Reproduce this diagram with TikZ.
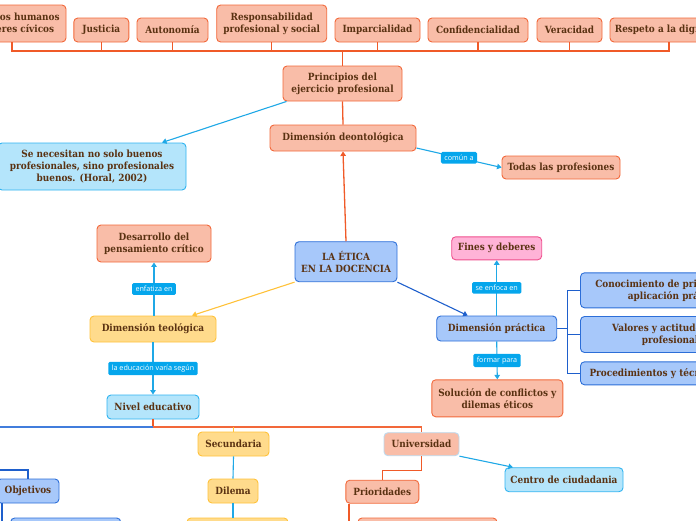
\documentclass[tikz,border=0pt]{standalone}
\usepackage{fontspec}
\setmainfont{DejaVu Serif}[FakeStretch=0.9]
\newfontfamily\lblfont{Open Sans}
\usetikzlibrary{arrows.meta}
\definecolor{txt}{HTML}{5A3212}
\definecolor{salfill}{HTML}{F9BDA8}
\definecolor{salline}{HTML}{F2683A}
\definecolor{orline}{HTML}{F05A28}
\definecolor{bluefill}{HTML}{A7C8FA}
\definecolor{blueline}{HTML}{2C6ED8}
\definecolor{skyfill}{HTML}{B4E5FB}
\definecolor{skyline}{HTML}{2FB3F0}
\definecolor{yelfill}{HTML}{FFDB8C}
\definecolor{yelline}{HTML}{FFC23A}
\definecolor{pinkfill}{HTML}{FFB3D7}
\definecolor{pinkline}{HTML}{EF4F8D}
\definecolor{lblfill}{HTML}{05A6EC}
\definecolor{cyanline}{HTML}{1FA8E6}
\definecolor{darkline}{HTML}{1E5FCC}
\definecolor{univline}{HTML}{BCD9EE}

\begin{document}
\begin{tikzpicture}[x=1pt, y=-1pt,
    box/.style={draw, rounded corners=4pt, line width=0.9pt, align=center, inner sep=2pt,
        text=txt, font=\bfseries\fontsize{9.9}{12}\selectfont},
    salbox/.style={box, fill=salfill, draw=salline},
    bluebox/.style={box, fill=bluefill, draw=blueline},
    skybox/.style={box, fill=skyfill, draw=skyline},
    yelbox/.style={box, fill=yelfill, draw=yelline},
    pinkbox/.style={box, fill=pinkfill, draw=pinkline},
    lbl/.style={fill=lblfill, text=white, rounded corners=1.5pt, inner xsep=3.5pt, inner ysep=3pt,
        font=\lblfont\fontsize{7.2}{8}\selectfont},
    arr/.style={-{Triangle[length=4.5pt,width=5.5pt]}},
    orln/.style={draw=orline, line width=1.3pt},
    skyln/.style={draw=cyanline, line width=1.1pt},
    blueln/.style={draw=darkline, line width=1.1pt}]
    \clip (0,0) rectangle (696,520);

    % principios
    \node[salbox, minimum width=108, minimum height=37] (dhum) at (12,23.5) {Derechos humanos\\y deberes cívicos};
    \node[salbox, minimum width=55, minimum height=24] (just) at (101.3,30) {Justicia};
    \node[salbox, minimum width=71, minimum height=24] (auto) at (172.5,30) {Autonomía};
    \node[salbox, minimum width=110, minimum height=37] (resp) at (271.7,23.5) {Responsabilidad\\profesional y social};
    \node[salbox, minimum width=85, minimum height=24] (impa) at (377.5,30) {Imparcialidad};
    \node[salbox, minimum width=100, minimum height=24] (conf) at (478,30) {Confidencialidad};
    \node[salbox, minimum width=65, minimum height=24] (vera) at (569.5,30) {Veracidad};
    \node[salbox, minimum width=118, minimum height=24] (resd) at (669,30) {Respeto a la dignidad};
    \node[salbox, minimum width=119, minimum height=35] (prin) at (342.5,83.5) {Principios del\\ejercicio profesional};
    \coordinate (tbar) at (342.5,51);
    \foreach \n in {dhum,just,auto,resp,impa,conf,vera,resd}
        \draw[orln] (\n.south) |- (tbar);
    \draw[orln, line width=1.8pt] (tbar) -- (prin.north);

    % deontologica
    \node[salbox, minimum width=146, minimum height=26] (deon) at (343,138) {Dimensión deontológica};
    \node[skybox, minimum width=188, minimum height=47] (nece) at (92,166.5) {Se necesitan no solo buenos\\profesionales, sino profesionales\\buenos. (Horal, 2002)};
    \node[salbox, minimum width=118, minimum height=23] (toda) at (561,167.5) {Todas las profesiones};
    \draw[orln] (prin.south) -- (deon.north);
    \draw[skyln, arr] ([xshift=4pt]prin.south west) -- ([xshift=70pt]nece.north);
    \draw[skyln, arr] ([yshift=-10pt]deon.east) -- node[lbl] {común a} (toda.west);

    % centro
    \node[bluebox, minimum width=102, minimum height=40] (etic) at (346,261.7) {LA ÉTICA\\EN LA DOCENCIA};
    \draw[orln, arr] (etic.north) -- (deon.south);

    % teologica
    \node[salbox, minimum width=114, minimum height=37] (desa) at (154,243.5) {Desarrollo del\\pensamiento crítico};
    \node[yelbox, minimum width=126, minimum height=26] (teol) at (153,329) {Dimensión teológica};
    \node[skybox, minimum width=92, minimum height=24] (nive) at (153,407) {Nivel educativo};
    \draw[draw=yelline, line width=1.1pt, arr] (etic.south west) -- ([xshift=39pt]teol.north);
    \draw[skyln, arr] ([xshift=1pt]teol.north) -- node[lbl] {enfatiza en} (desa.south);
    \draw[skyln, arr] (teol.south) -- node[lbl] {la educación varía según} (nive.north);

    % practica
    \node[pinkbox, minimum width=90, minimum height=23] (fine) at (496.7,248.3) {Fines y deberes};
    \node[bluebox, minimum width=120, minimum height=25] (prac) at (496.7,328.5) {Dimensión práctica};
    \node[salbox, minimum width=131, minimum height=37] (solu) at (497.3,398.3) {Solución de conflictos y\\dilemas éticos};
    \node[bluebox, minimum width=190, minimum height=35] (cono) at (675.5,290.3) {Conocimiento de principios y su\\aplicación práctica};
    \node[bluebox, minimum width=190, minimum height=36] (valo) at (675.5,334.5) {Valores y actitudes éticas\\profesionales};
    \node[bluebox, minimum width=190, minimum height=23, text width=172, align=left] (proc) at (675.5,373.3) {Procedimientos y técnicas};
    \draw[blueln, arr] (etic.south east) -- ([xshift=-29pt]prac.north);
    \draw[skyln, arr] (prac.north) -- node[lbl] {se enfoca en} (fine.south);
    \draw[skyln, arr] (prac.south) -- node[lbl] {formar para} (solu.north);
    \coordinate (pbr) at (567.5,328.5);
    \draw[blueln] (prac.east) -- (pbr);
    \foreach \n in {cono,valo,proc}
        \draw[blueln] (pbr) |- (\n.west);

    % niveles
    \node[yelbox, minimum width=71, minimum height=24] (secu) at (233.5,444) {Secundaria};
    \node[yelbox, minimum width=50, minimum height=24] (dile) at (233,491) {Dilema};
    \node[yelbox, minimum width=101, minimum height=24] (dilb) at (237.5,530) {};
    \node[salbox, draw=univline, minimum width=75, minimum height=23] (univ) at (421.5,444.2) {Universidad};
    \node[skybox, minimum width=118, minimum height=24] (cent) at (564,479.7) {Centro de ciudadania};
    \node[salbox, minimum width=73, minimum height=23] (prio) at (382.3,491.7) {Prioridades};
    \node[salbox, minimum width=139, minimum height=24] (priob) at (427.5,530) {};
    \node[bluebox, minimum width=62, minimum height=24] (obje) at (28,491) {Objetivos};
    \node[bluebox, minimum width=110, minimum height=24] (objb) at (65.7,530) {};
    \coordinate (nbr) at (153,427);
    \draw[orln] (nive.south) -- (nbr);
    \draw[blueln, draw=blueline!90] (nbr) -- (-10,427);
    \draw[orln, draw=salline] (nbr) -| (univ.north);
    \draw[draw=yelline, line width=1.1pt] (233.5,427) -- (secu.north);
    \draw[skyln] (secu.south) -- (dile.north);
    \draw[skyln] (dile.south) -- ([xshift=-4.5pt]dilb.north);
    \draw[skyln, arr] (univ.south east) -- ([xshift=-51pt]cent.north);
    \draw[orln] (univ.south) -- ([yshift=-14pt]univ.south) -| (prio.north);
    \draw[orln, line width=1.8pt] ([xshift=-33pt]prio.south) |- (priob.west);
    \draw[blueln] (-10,470) -| (obje.north);
    \draw[blueln, line width=1.6pt] ([xshift=-26pt]obje.south) |- (objb.west);
\end{tikzpicture}
\end{document}
